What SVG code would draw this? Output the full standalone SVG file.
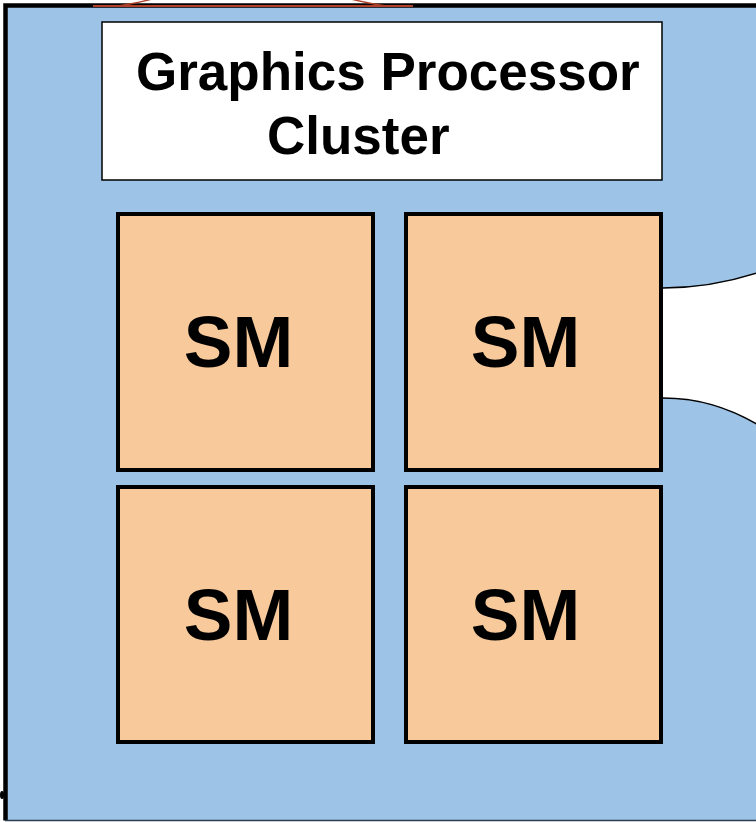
<svg xmlns="http://www.w3.org/2000/svg" width="756" height="822" viewBox="0 0 756 822">
  <style>
    .sm rect { fill: #f8c99b; stroke: #000; stroke-width: 4; }
    .sm text { font-family: "Liberation Sans", Arial, sans-serif; font-weight: bold; font-size: 73px; fill: #000; }
    .title { font-family: "Liberation Sans", Arial, sans-serif; font-weight: bold; font-size: 53px; fill: #000; }
    .edge { fill: none; stroke: #000; stroke-width: 1.5; }
  </style>
  <rect width="756" height="822" fill="#fff"/>

  <!-- cluster body -->
  <g id="cluster">
    <rect x="5.5" y="5.5" width="780" height="815" fill="#9dc3e6"/>
    <path d="M5.5 820.5 V5.5 H760" fill="none" stroke="#000" stroke-width="4.5"/>
    <line x1="5" y1="820.5" x2="756" y2="820.5" stroke="#2f3f52" stroke-width="1.5"/>
    <ellipse cx="2" cy="795" rx="2" ry="4" fill="#000"/>
  </g>

  <!-- link attached at the top edge -->
  <g id="top-link">
    <path d="M93 6 H413" fill="none" stroke="#b0402a" stroke-width="2"/>
    <path d="M118 6 Q138 3 152 -1 M351 -1 Q366 3 386 6" fill="none" stroke="#b0402a" stroke-width="1.5"/>
  </g>

  <!-- opening on the right edge -->
  <g id="right-link">
    <path d="M663 288 C700 288 730 282 760 272 V426 C730 408 700 398 663 398 Z" fill="#fff"/>
    <path class="edge" d="M663 288 C700 288 730 282 760 272"/>
    <path class="edge" d="M663 398 C700 398 730 408 760 426"/>
  </g>

  <!-- title -->
  <g id="title">
    <rect x="102" y="22" width="560" height="158" fill="#fff" stroke="#000" stroke-width="1.5"/>
    <text class="title" x="136" y="90">Graphics Processor</text>
    <text class="title" x="267" y="154">Cluster</text>
  </g>

  <!-- streaming multiprocessors -->
  <g id="sm1" class="sm">
    <rect x="118" y="214" width="255" height="256"/>
    <text x="238.5" y="367" text-anchor="middle">SM</text>
  </g>
  <g id="sm2" class="sm">
    <rect x="406" y="214" width="255" height="256"/>
    <text x="525.5" y="367" text-anchor="middle">SM</text>
  </g>
  <g id="sm3" class="sm">
    <rect x="118" y="487" width="255" height="255"/>
    <text x="238.5" y="640" text-anchor="middle">SM</text>
  </g>
  <g id="sm4" class="sm">
    <rect x="406" y="487" width="255" height="255"/>
    <text x="525.5" y="640" text-anchor="middle">SM</text>
  </g>
</svg>
